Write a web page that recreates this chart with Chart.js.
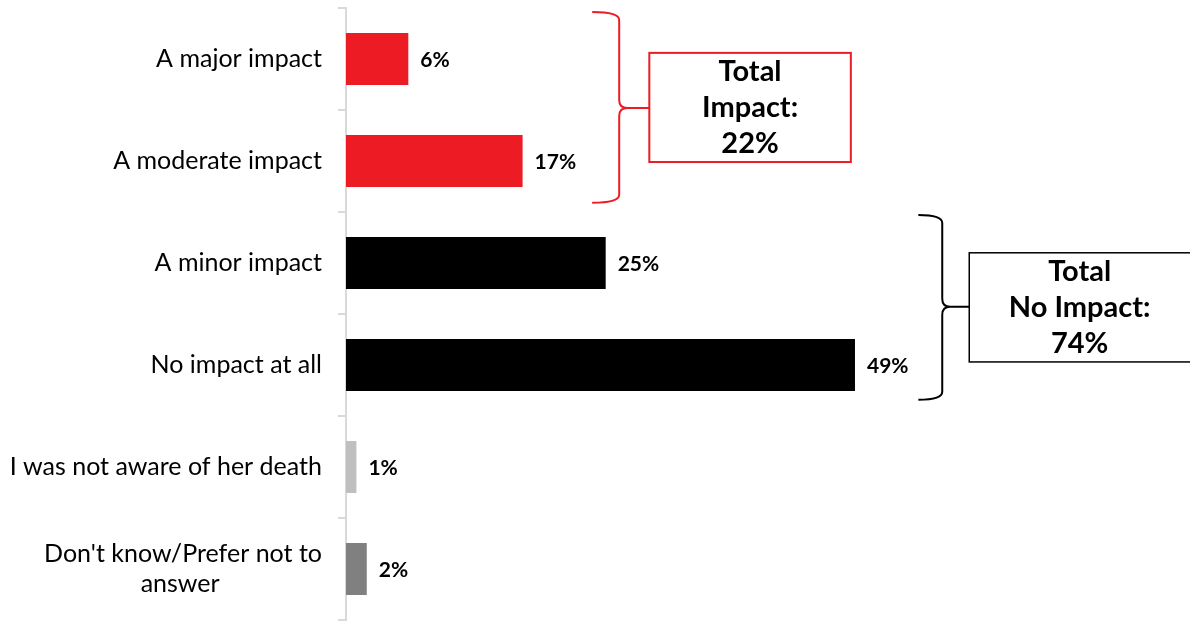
<!DOCTYPE html>
<html>
<head>
    <title>Impact chart</title>
    <script src="https://cdn.jsdelivr.net/npm/chart.js"></script>
    <style>
        html, body { margin: 0; padding: 0; background: #fff; }
        #wrap { width: 1190px; height: 623px; }
    </style>
</head>
<body>
    <div id="wrap"><canvas id="impactChart"></canvas></div>

    <script>
        // data
        const categories = [
            'A major impact',
            'A moderate impact',
            'A minor impact',
            'No impact at all',
            'I was not aware of her death',
            ["Don't know/Prefer not to", 'answer']
        ];
        const values = [6, 17, 25, 49, 1, 2];
        const barColors = ['#ED1C24', '#ED1C24', '#000000', '#000000', '#BFBFBF', '#808080'];
        const groupLabels = [['Total', 'Impact:', '22%'], ['Total', 'No Impact:', '74%']];
        const groupColors = ['#ED1C24', '#000000'];

        const labelFont = '25px Lato';

        // wrapped labels: pad short lines so they look centred under the long one
        const measureCtx = document.createElement('canvas').getContext('2d');
        function centreLines(label) {
            if (!Array.isArray(label)) return label;
            measureCtx.font = labelFont;
            const maxW = Math.max(...label.map(l => measureCtx.measureText(l).width));
            const spaceW = measureCtx.measureText(' ').width;
            return label.map(l => {
                const n = Math.round((maxW - measureCtx.measureText(l).width) / 2 / spaceW);
                return l + ' '.repeat(n);
            });
        }

        // value labels at bar ends
        const valueLabels = {
            id: 'valueLabels',
            afterDatasetsDraw(chart) {
                const ctx = chart.ctx;
                const meta = chart.getDatasetMeta(0);
                ctx.save();
                ctx.font = 'bold 21px Lato';
                ctx.fillStyle = '#000';
                ctx.textAlign = 'left';
                ctx.textBaseline = 'middle';
                meta.data.forEach((bar, i) => {
                    ctx.fillText(values[i] + '%', bar.x + 12, bar.y + 1);
                });
                ctx.restore();
            }
        };

        // curly braces + boxes
        const braces = {
            id: 'braces',
            afterDraw(chart, args, opts) {
                const ctx = chart.ctx;
                const xs = chart.scales.x, ys = chart.scales.y;
                opts.items.forEach((it, k) => {
                    const x0 = xs.getPixelForValue(it.x0);
                    const xsp = xs.getPixelForValue(it.xs);
                    const y0 = ys.getPixelForValue(it.y0);
                    const y1 = ys.getPixelForValue(it.y1);
                    const ym = ys.getPixelForValue(it.ym);
                    const bl = xs.getPixelForValue(it.boxL);
                    const br = xs.getPixelForValue(it.boxR);
                    const bt = ys.getPixelForValue(it.boxT);
                    const bb = ys.getPixelForValue(it.boxB);
                    const r = 8;
                    ctx.save();
                    ctx.strokeStyle = groupColors[k];
                    ctx.lineWidth = 2;
                    ctx.beginPath();
                    ctx.moveTo(x0, y0);
                    ctx.quadraticCurveTo(xsp, y0, xsp, y0 + r);
                    ctx.lineTo(xsp, ym - r);
                    ctx.quadraticCurveTo(xsp, ym, xsp + r, ym);
                    ctx.quadraticCurveTo(xsp, ym, xsp, ym + r);
                    ctx.lineTo(xsp, y1 - r);
                    ctx.quadraticCurveTo(xsp, y1, x0, y1);
                    ctx.moveTo(xsp + r, ym);
                    ctx.lineTo(bl, ym);
                    ctx.stroke();
                    ctx.lineWidth = k === 0 ? 2 : 1.5;
                    ctx.fillStyle = '#fff';
                    ctx.fillRect(bl, bt, br - bl, bb - bt);
                    ctx.strokeRect(bl, bt, br - bl, bb - bt);
                    ctx.fillStyle = '#000';
                    ctx.font = 'bold 29px Lato';
                    ctx.textAlign = 'center';
                    ctx.textBaseline = 'middle';
                    const cx = (bl + Math.min(br, chart.width)) / 2;
                    const cy = (bt + bb) / 2;
                    groupLabels[k].forEach((t, j) => {
                        ctx.fillText(t, cx, cy + (j - 1) * 36);
                    });
                    ctx.restore();
                });
            }
        };

        new Chart(document.getElementById('impactChart'), {
            type: 'bar',
            data: {
                labels: categories,
                datasets: [{
                    data: values,
                    backgroundColor: barColors,
                    barPercentage: 0.51,
                    categoryPercentage: 1
                }]
            },
            options: {
                indexAxis: 'y',
                responsive: true,
                maintainAspectRatio: false,
                animation: false,
                layout: { padding: { top: 8, bottom: 3, right: 13 } },
                plugins: {
                    legend: { display: false },
                    tooltip: { enabled: false },
                    braces: {
                        items: [
                            { x0: 23.7, xs: 26.3, y0: -0.46, y1: 1.41, ym: 0.48,
                              boxL: 29.2, boxR: 48.6, boxT: -0.06, boxB: 1.01 },
                            { x0: 55.1, xs: 57.4, y0: 1.53, y1: 3.34, ym: 2.43,
                              boxL: 60.0, boxR: 82, boxT: 1.90, boxB: 2.97 }
                        ]
                    }
                },
                scales: {
                    x: { display: false, min: 0, max: 80 },
                    y: {
                        afterFit(scale) {
                            scale.width = 346;
                            scale.paddingTop = 0;
                            scale.paddingBottom = 0;
                        },
                        border: { color: '#d9d9d9', width: 2 },
                        grid: {
                            drawOnChartArea: false,
                            color: '#d9d9d9',
                            lineWidth: 2,
                            tickLength: 8,
                            offset: true
                        },
                        ticks: {
                            color: '#000',
                            padding: 16,
                            font: { family: 'Lato', size: 25 },
                            callback: (v, i) => centreLines(categories[i])
                        }
                    }
                }
            },
            plugins: [valueLabels, braces]
        });
    </script>
</body>
</html>
